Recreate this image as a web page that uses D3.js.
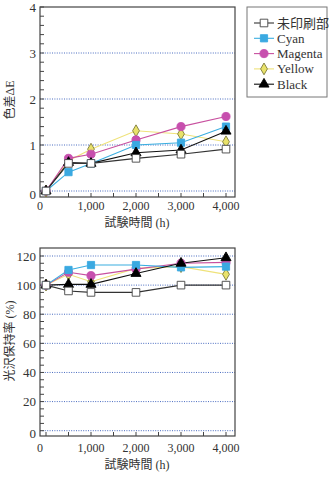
<!DOCTYPE html>
<html><head><meta charset="utf-8">
<script src="https://cdn.jsdelivr.net/npm/d3@7"></script>
<style>
html,body{margin:0;padding:0;background:#fff;}
svg text{font-family:"Liberation Serif","DejaVu Serif","Times New Roman","Noto Sans CJK JP",serif;}
</style></head>
<body>
<svg id="c" width="331" height="481"></svg>
<script>
const hours = [0, 500, 1000, 2000, 3000, 4000];
const seriesNames = ["未印刷部", "Cyan", "Magenta", "Yellow", "Black"];
const deltaE = {
  "未印刷部": [0.0, 0.60, 0.60, 0.71, 0.80, 0.91],
  "Cyan":     [0.0, 0.41, 0.60, 1.00, 1.05, 1.40],
  "Magenta":  [0.0, 0.71, 0.80, 1.11, 1.40, 1.62],
  "Yellow":   [0.0, 0.66, 0.91, 1.31, 1.24, 1.07],
  "Black":    [0.0, 0.62, 0.60, 0.83, 0.89, 1.30]
};
const gloss = {
  "未印刷部": [100, 96, 95, 95, 100, 100],
  "Cyan":     [100, 110.4, 113.8, 113.8, 112.2, 112.7],
  "Magenta":  [100, 108.8, 106.5, 111, 115, 115.6],
  "Yellow":   [100, 107.4, 102.3, 111.5, 112.7, 107.4],
  "Black":    [100, 100.5, 100.5, 108, 115, 118.8]
};
const xTicks = [0, 1000, 2000, 3000, 4000];
const topYTicks = [0, 1, 2, 3, 4];
const botYTicks = [0, 20, 40, 60, 80, 100, 120];
const xTitle = "試験時間 (h)";
const topYTitle = "色差ΔE";
const botYTitle = "光沢保持率 (%)";

const FONT = '"Liberation Serif","DejaVu Serif","Noto Sans CJK JP",serif';

const style = {
  "未印刷部": {shape: d3.symbolSquare, size: 58, fill: "#ffffff", stroke: "#444", line: "#333"},
  "Cyan":    {shape: d3.symbolSquare, size: 52, fill: "#3aa9e1", stroke: "#3aa9e1", line: "#3aaee0"},
  "Magenta": {shape: d3.symbolCircle, size: 52, fill: "#c74fae", stroke: "#c74fae", line: "#c8509f"},
  "Yellow":  {shape: d3.symbolDiamond, size: 40, fill: "#e9e26a", stroke: "#7d7a3a", line: "#efe27a"},
  "Black":   {shape: d3.symbolTriangle, size: 44, fill: "#000", stroke: "#000", line: "#111"}
};
const drawOrder = ["Yellow", "Magenta", "Cyan", "Black", "未印刷部"];

const svg = d3.select("#c").attr("font-family", FONT);

function panel(cfg) {
  const g = svg.append("g");
  const x = d3.scaleLinear().domain([0, 4000]).range([46, 226]);
  const y = d3.scaleLinear().domain(cfg.ydom).range(cfg.yrange);
  const L = 40, R = 235, T = cfg.frameTop, B = cfg.frameBot;
  g.selectAll(".grid").data(cfg.yticks.filter(v => y(v) > T + 2)).enter().append("line")
    .attr("x1", L).attr("x2", R).attr("y1", d => y(d)).attr("y2", d => y(d))
    .attr("stroke", "#4a6cc0").attr("stroke-width", 1).attr("stroke-dasharray", "1,1.4");
  g.selectAll(".ym").data(d3.range(cfg.ydom[0], cfg.ydom[1] + cfg.minor / 2, cfg.minor)).enter().append("line")
    .attr("x1", L).attr("x2", L + 4).attr("y1", d => y(d)).attr("y2", d => y(d))
    .attr("stroke", "#444").attr("stroke-width", 1);
  g.selectAll(".xm").data(d3.range(0, 4001, 500)).enter().append("line")
    .attr("x1", d => x(d)).attr("x2", d => x(d)).attr("y1", B).attr("y2", B - 4)
    .attr("stroke", "#444").attr("stroke-width", 1);
  g.append("rect").attr("x", L).attr("y", T).attr("width", R - L).attr("height", B - T)
    .attr("fill", "none").attr("stroke", "#444").attr("stroke-width", 1.2);
  g.selectAll(".yl").data(cfg.yticks).enter().append("text")
    .attr("font-family", FONT)
    .attr("x", 36).attr("y", d => y(d) + (d === 0 ? 3 : 0)).attr("dy", "0.35em")
    .attr("text-anchor", "end").attr("font-size", 13).attr("fill", "#333").text(d => d);
  g.selectAll(".xl").data(xTicks).enter().append("text")
    .attr("font-family", FONT)
    .attr("x", d => x(d) - (d === 0 ? 6 : 0)).attr("y", cfg.xLabY).attr("text-anchor", "middle")
    .attr("font-size", 12).attr("fill", "#333").text(d => d3.format(",")(d));
  g.append("text").attr("font-family", FONT).attr("x", 137).attr("y", cfg.xTitleY).attr("text-anchor", "middle")
    .attr("font-size", 12).attr("fill", "#333").text(xTitle);
  g.append("text").attr("font-family", FONT).attr("transform", `translate(14,${cfg.yTitleC}) rotate(-90)`)
    .attr("text-anchor", "middle").attr("font-size", 12).attr("fill", "#333").text(cfg.ytitle);
  const line = d3.line().x((d, i) => x(hours[i])).y(d => y(d));
  drawOrder.forEach(name => {
    const s = style[name];
    g.append("path").attr("d", line(cfg.data[name])).attr("fill", "none")
      .attr("stroke", s.line).attr("stroke-width", 1.1);
  });
  drawOrder.forEach(name => {
    const s = style[name];
    g.selectAll(null).data(cfg.data[name]).enter().append("path")
      .attr("d", d3.symbol().type(s.shape).size(s.size))
      .attr("transform", (d, i) => `translate(${x(hours[i])},${y(d)})`)
      .attr("fill", s.fill).attr("stroke", s.stroke).attr("stroke-width", 0.9);
  });
}

panel({ydom: [0, 4], yrange: [191, 7], frameTop: 7, frameBot: 197, yticks: topYTicks, minor: 0.2,
  xLabY: 209.5, xTitleY: 227, yTitleC: 100, ytitle: topYTitle, data: deltaE});
panel({ydom: [0, 120], yrange: [430.7, 256], frameTop: 248, frameBot: 436, yticks: botYTicks, minor: 5,
  xLabY: 452, xTitleY: 469, yTitleC: 341, ytitle: botYTitle, data: gloss});

const lg = svg.append("g");
lg.append("rect").attr("x", 247).attr("y", 7).attr("width", 80).attr("height", 90)
  .attr("fill", "#fff").attr("stroke", "#777").attr("stroke-width", 1);
seriesNames.forEach((name, i) => {
  const s = style[name];
  const cy = 23 + i * 15.3;
  lg.append("line").attr("x1", 254).attr("x2", 274).attr("y1", cy).attr("y2", cy)
    .attr("stroke", s.line).attr("stroke-width", 1.1);
  lg.append("path").attr("d", d3.symbol().type(s.shape).size(s.size))
    .attr("transform", `translate(264,${cy})`).attr("fill", s.fill).attr("stroke", s.stroke).attr("stroke-width", 0.9);
  lg.append("text").attr("font-family", FONT).attr("x", 277).attr("y", cy).attr("dy", "0.35em").attr("font-size", 13)
    .attr("fill", "#333").text(name);
});
</script>
</body></html>
